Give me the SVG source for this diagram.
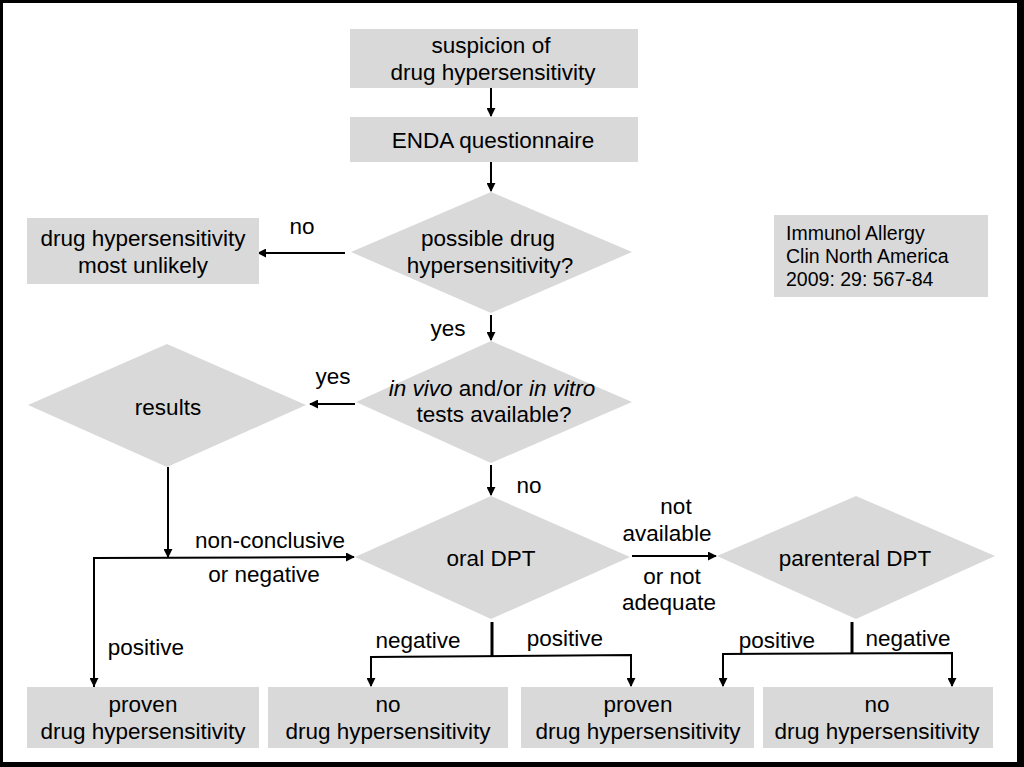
<svg xmlns="http://www.w3.org/2000/svg" width="1024" height="767" viewBox="0 0 1024 767">
<style>
.box{fill:#d9d9d9}
.t{font-family:"Liberation Sans",Arial,sans-serif;font-size:22.5px;fill:#000;text-anchor:middle}
.ref{font-family:"Liberation Sans",Arial,sans-serif;font-size:19.5px;fill:#000}
.c{stroke:#000;stroke-width:2;fill:none}
.b{stroke:#000;stroke-width:3;fill:none}
</style>
<defs>
<marker id="ah" viewBox="0 0 10 10" refX="9" refY="5" markerWidth="4.5" markerHeight="4.5" orient="auto" markerUnits="strokeWidth">
<path d="M0,0 L10,5 L0,10 z" fill="#000"/>
</marker>
</defs>
<rect x="0" y="0" width="1024" height="767" fill="#fff"/>
<g id="frame" fill="#000">
<rect x="0" y="0" width="1024" height="3"/>
<rect x="0" y="0" width="3" height="767"/>
<rect x="1017" y="0" width="7" height="767"/>
<rect x="0" y="762" width="1024" height="5"/>
</g>
<g id="connectors">
<line class="c" x1="491" y1="88" x2="491" y2="116" marker-end="url(#ah)"/>
<line class="c" x1="491" y1="162" x2="491" y2="191" marker-end="url(#ah)"/>
<line class="c" x1="345" y1="253" x2="258" y2="253" marker-end="url(#ah)"/>
<line class="c" x1="491" y1="315" x2="491" y2="340" marker-end="url(#ah)"/>
<line class="c" x1="355" y1="404" x2="310" y2="404" marker-end="url(#ah)"/>
<line class="c" x1="491" y1="465" x2="491" y2="495" marker-end="url(#ah)"/>
<line class="c" x1="168" y1="467" x2="168" y2="557" marker-end="url(#ah)"/>
<polyline class="c" points="94,688 94,558 354,557" marker-end="url(#ah)"/>
<line class="c" x1="94" y1="558" x2="94" y2="686" marker-end="url(#ah)"/>
<line class="c" x1="632" y1="556" x2="716" y2="556" marker-end="url(#ah)"/>
<line class="b" x1="492" y1="622" x2="492" y2="656"/>
<polyline class="c" points="371,686 371,657 631,655 631,686" marker-end="url(#ah)"/>
<line class="c" x1="371" y1="657" x2="371" y2="686" marker-end="url(#ah)"/>
<line class="b" x1="852" y1="622" x2="852" y2="654"/>
<polyline class="c" points="723,686 723,654 952,653 952,686" marker-end="url(#ah)"/>
<line class="c" x1="723" y1="654" x2="723" y2="686" marker-end="url(#ah)"/>
</g>
<g id="n-suspicion">
<rect class="box" x="350" y="29" width="288" height="59"/>
<text class="t" x="491" y="53">suspicion of</text>
<text class="t" x="493" y="80">drug hypersensitivity</text>
</g>
<g id="n-enda">
<rect class="box" x="350" y="117" width="288" height="45"/>
<text class="t" x="493" y="148">ENDA questionnaire</text>
</g>
<g id="n-possible">
<polygon class="box" points="491,192 632,252 491,313 351,252"/>
<text class="t" x="488" y="246">possible drug</text>
<text class="t" x="490" y="273">hypersensitivity?</text>
</g>
<g id="n-unlikely">
<rect class="box" x="27" y="218" width="232" height="66"/>
<text class="t" x="143" y="246">drug hypersensitivity</text>
<text class="t" x="143" y="273">most unlikely</text>
</g>
<g id="n-ref">
<rect class="box" x="774" y="215" width="214" height="82"/>
<text class="ref" x="786" y="240">Immunol Allergy</text>
<text class="ref" x="786" y="263">Clin North America</text>
<text class="ref" x="786" y="286">2009: 29: 567-84</text>
</g>
<g id="n-tests">
<polygon class="box" points="491,341 632,402 491,463 356,402"/>
<text class="t" x="492" y="396"><tspan font-style="italic">in vivo</tspan> and/or <tspan font-style="italic">in vitro</tspan></text>
<text class="t" x="494" y="422">tests available?</text>
</g>
<g id="n-results">
<polygon class="box" points="167,344 306,405 167,467 28,405"/>
<text class="t" x="168" y="415">results</text>
</g>
<g id="n-oral">
<polygon class="box" points="491,496 630,557 491,619 355,557"/>
<text class="t" x="491" y="566">oral DPT</text>
</g>
<g id="n-parenteral">
<polygon class="box" points="856,496 995,556 856,619 717,556"/>
<text class="t" x="855" y="566">parenteral DPT</text>
</g>
<g id="n-proven1">
<rect class="box" x="27" y="687" width="232" height="61"/>
<text class="t" x="143" y="712">proven</text>
<text class="t" x="143" y="739">drug hypersensitivity</text>
</g>
<g id="n-no1">
<rect class="box" x="268" y="687" width="240" height="61"/>
<text class="t" x="388" y="712">no</text>
<text class="t" x="388" y="739">drug hypersensitivity</text>
</g>
<g id="n-proven2">
<rect class="box" x="521" y="687" width="233" height="61"/>
<text class="t" x="638" y="712">proven</text>
<text class="t" x="638" y="739">drug hypersensitivity</text>
</g>
<g id="n-no2">
<rect class="box" x="763" y="687" width="230" height="61"/>
<text class="t" x="877" y="712">no</text>
<text class="t" x="877" y="739">drug hypersensitivity</text>
</g>
<g id="labels">
<text class="t" x="302" y="234">no</text>
<text class="t" x="448" y="336">yes</text>
<text class="t" x="333" y="384">yes</text>
<text class="t" x="529" y="493">no</text>
<text class="t" x="270" y="548">non-conclusive</text>
<text class="t" x="264" y="582">or negative</text>
<text class="t" x="676" y="514">not</text>
<text class="t" x="667" y="541">available</text>
<text class="t" x="672" y="584">or not</text>
<text class="t" x="669" y="610">adequate</text>
<text class="t" x="146" y="655">positive</text>
<text class="t" x="418" y="648">negative</text>
<text class="t" x="565" y="646">positive</text>
<text class="t" x="777" y="648">positive</text>
<text class="t" x="908" y="646">negative</text>
</g>
</svg>
